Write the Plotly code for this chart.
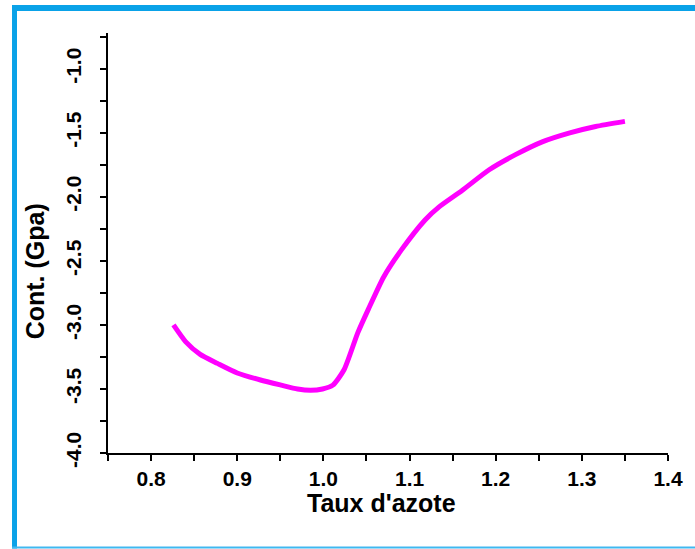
import plotly.graph_objects as go

# Nitrogen ratio vs. stress
taux_azote = [0.826, 0.840, 0.857, 0.877, 0.900, 0.927, 0.951, 0.970, 0.985,
              0.999, 1.011, 1.024, 1.040, 1.052, 1.070, 1.091, 1.118, 1.134,
              1.161, 1.192, 1.223, 1.254, 1.286, 1.316, 1.350]
contrainte = [-3.00, -3.13, -3.23, -3.30, -3.375, -3.43, -3.47, -3.50, -3.51,
              -3.50, -3.47, -3.35, -3.06, -2.88, -2.625, -2.41, -2.18, -2.08,
              -1.95, -1.79, -1.67, -1.57, -1.50, -1.45, -1.41]

x_ticks = [0.8, 0.9, 1.0, 1.1, 1.2, 1.3, 1.4]
y_ticks = [-4.0, -3.5, -3.0, -2.5, -2.0, -1.5, -1.0]

FONT = "Arial, Liberation Sans, sans-serif"
BLUE = "#0aa2e8"

fig = go.Figure()
fig.add_trace(go.Scatter(
    x=taux_azote, y=contrainte, mode="lines",
    line=dict(color="#ff00ff", width=5, shape="spline", smoothing=0.6),
    showlegend=False,
))

axis_common = dict(
    showgrid=False, zeroline=False,
    showline=True, linecolor="black", linewidth=2,
    ticks="outside", ticklen=6, tickwidth=2, tickcolor="black",
    tickfont=dict(family=FONT, size=21, color="black", weight="bold"),
)

fig.update_xaxes(
    range=[0.75, 1.4], tickmode="array", tickvals=x_ticks,
    ticktext=[f"{v:.1f}" for v in x_ticks],
    minor=dict(ticks="outside", ticklen=6, tickwidth=2, tickcolor="black", dtick=0.05),
    **axis_common,
)
# plain hyphen as the minus sign on the stress axis
fig.update_yaxes(
    range=[-4.0, -0.72], tickmode="array", tickvals=y_ticks,
    ticktext=[f"{v:.1f}" for v in y_ticks],
    tickangle=-90, ticklabelstandoff=11,
    minor=dict(ticks="outside", ticklen=6, tickwidth=2, tickcolor="black", dtick=0.25),
    **axis_common,
)

# Frame around the figure
shapes = [
    dict(type="rect", xref="paper", yref="paper", x0=-0.1714, x1=-0.1625,
         y0=-0.2274, y1=1.0667, fillcolor=BLUE, line=dict(width=0)),
    dict(type="rect", xref="paper", yref="paper", x0=-0.1714, x1=1.06,
         y0=1.0524, y1=1.0667, fillcolor=BLUE, line=dict(width=0)),
    dict(type="rect", xref="paper", yref="paper", x0=-0.1714, x1=1.06,
         y0=-0.2274, y1=-0.2226, fillcolor="#40b8f0", line=dict(width=0)),
]

annotations = [
    dict(text="Taux d'azote", xref="paper", yref="paper", x=0.4875, y=-0.119,
         xanchor="center", yanchor="middle", showarrow=False,
         font=dict(family=FONT, size=25, color="black", weight="bold")),
    dict(text="Cont. (Gpa)", xref="paper", yref="paper", x=-0.130, y=0.433,
         xanchor="center", yanchor="middle", textangle=-90, showarrow=False,
         font=dict(family=FONT, size=25, color="black", weight="bold")),
]

fig.update_layout(
    width=695, height=549,
    margin=dict(l=108, r=27, t=33, b=96),
    paper_bgcolor="white", plot_bgcolor="white",
    shapes=shapes, annotations=annotations,
)

fig.write_html("out.html")
